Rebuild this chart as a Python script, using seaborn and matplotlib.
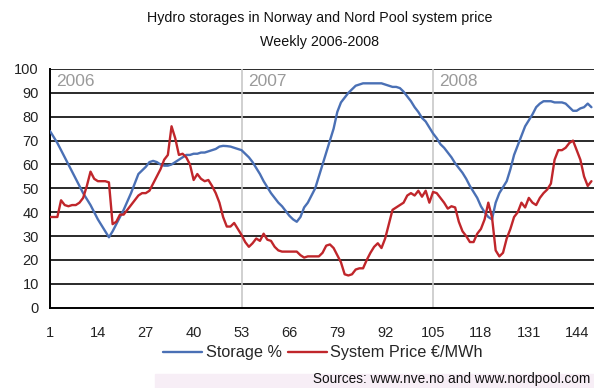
import numpy as np
import pandas as pd
import matplotlib
matplotlib.use("Agg")
import matplotlib.pyplot as plt
import seaborn as sns
from matplotlib.patches import Rectangle

# Weekly values (week 1 = first week of 2006)
storage = [74, 71.5, 69, 66, 63, 60, 57, 54, 51, 48, 45.5, 43, 40, 37, 34.5, 32, 29.5,
           32, 35, 38, 41, 44.5, 48, 52, 56, 57.5, 59, 61, 61.5, 61, 60, 59.5, 59.5,
           60, 61, 62, 63, 64, 64, 64.5, 64.5, 65, 65, 65.5, 66, 66.5, 67.5, 67.8,
           67.7, 67.5, 67, 66.5, 66, 64.5, 63, 61, 58.5, 56, 53, 50.5, 48, 46, 44,
           42.5, 40.5, 38.5, 37, 36, 38, 42, 44, 47, 50, 55, 60, 65, 70, 75, 82,
           86, 88, 90, 91.5, 93, 93.5, 94, 94, 94, 94, 94, 94, 93.5, 93, 92.5, 92.5,
           92, 90.5, 88.5, 86.5, 84, 82, 79.5, 78, 75.5, 73, 71, 68.5, 67, 65, 63,
           60.5, 58.5, 56.5, 54, 51, 48.5, 46, 42.5, 40, 38, 37, 44, 48, 50.5, 53,
           58, 64, 68, 72, 76, 78.5, 81, 84, 85.5, 86.5, 86.5, 86.5, 86, 86, 86,
           85.5, 84, 82.5, 82.5, 83.5, 84, 85.5, 84]

price = [38, 38, 38, 45, 43, 42.5, 43, 43, 44, 46, 51, 57, 54, 53, 53, 53, 52.5,
         35, 36, 39, 39, 41, 43, 45, 47, 48, 48, 49, 52, 55, 58, 62, 64, 76, 71,
         64, 64.5, 63, 60, 53.5, 56, 54, 53, 53.5, 51, 48, 44, 38, 34, 34, 35.5,
         33, 30.5, 27.5, 25.5, 27, 29, 28, 31, 28.5, 28, 25.5, 24, 23.5, 23.5,
         23.5, 23.5, 23.5, 22, 21, 21.5, 21.5, 21.5, 21.5, 23, 26, 26.5, 25, 22,
         19, 14, 13.5, 14, 16, 16.5, 16.5, 20, 23, 25.5, 27, 25, 29, 35, 41, 42,
         43, 44, 47, 48, 47, 49, 46.5, 49, 44, 48.5, 48, 46, 44, 41.5, 42.5, 42,
         36, 32, 30, 27.5, 27.5, 31, 33, 37, 44, 38, 24, 21.5, 23, 29, 33, 38, 40,
         44, 42, 46, 44, 43, 46, 48, 49.5, 52, 62, 66, 66, 67, 69, 70, 66, 62, 55,
         51, 53]

weeks = np.arange(1, len(storage) + 1)
week_ticks = [1, 14, 27, 40, 53, 66, 79, 92, 105, 118, 131, 144]
year_starts = [1, 53, 105]
year_labels = ["2006", "2007", "2008"]

df = pd.DataFrame({"week": weeks, "Storage %": storage,
                   "System Price €/MWh": price})

sns.set_style("white")
plt.rcParams['font.family'] = ['Liberation Sans', 'DejaVu Sans']

fig = plt.figure(figsize=(5.94, 3.88), dpi=100)
ax = fig.add_axes([50 / 594, 80.3 / 388, 544 / 594, 238.7 / 388])

BLUE = '#4a70b5'
RED = '#c0262b'

# Gridlines and year separators
for v in range(10, 101, 10):
    ax.axhline(v, color='#2a2a2a', lw=1.4, zorder=1)
for ys in year_starts[1:]:
    ax.axvline(ys, color='#c8c8c8', lw=1.2, zorder=1)
for ys, lab in zip(year_starts, year_labels):
    ax.text(ys + 1.7, 94.7, lab, color='#9a9a9a', fontsize=12.5, va='center', ha='left')

sns.lineplot(data=df, x="week", y="Storage %", ax=ax, color=BLUE, lw=1.7,
             label="Storage %", zorder=3)
sns.lineplot(data=df, x="week", y="System Price €/MWh", ax=ax, color=RED, lw=1.7,
             label="System Price €/MWh", zorder=3)

ax.set_xlim(1, 148.7)
ax.set_ylim(0, 100)
ax.set_xticks(week_ticks)
ax.set_yticks(range(0, 101, 10))
ax.set_xlabel("")
ax.set_ylabel("")
ax.tick_params(axis='both', direction='out', length=5, width=1.3, color='black',
               labelsize=10.5, labelcolor='#222222')
ax.tick_params(axis='x', pad=8)
ax.tick_params(axis='y', pad=3)
for s in ['top', 'right']:
    ax.spines[s].set_visible(False)
for s in ['left', 'bottom']:
    ax.spines[s].set_color('black')
    ax.spines[s].set_linewidth(1.4)

ax.legend(loc='center', bbox_to_anchor=(323 / 594, 35 / 388),
          bbox_transform=fig.transFigure, ncol=2, frameon=False,
          fontsize=11.7, handlelength=2.4, handletextpad=0.2, columnspacing=0.4)

fig.text(320 / 594, 1 - 18 / 388, "Hydro storages in Norway and Nord Pool system price",
         ha='center', va='center', fontsize=10.3, color='#111111')
fig.text(320 / 594, 1 - 42 / 388, "Weekly 2006-2008",
         ha='center', va='center', fontsize=10.3, color='#111111')

fig.patches.append(Rectangle((155 / 594, 0), 439 / 594, 14 / 388,
                             transform=fig.transFigure, color='#f7eef6', zorder=0))
fig.text(590 / 594, 2 / 388, "Sources: www.nve.no and www.nordpool.com", ha='right',
         va='bottom', fontsize=9.8, color='#111111')

fig.savefig("out.png", dpi=100)
